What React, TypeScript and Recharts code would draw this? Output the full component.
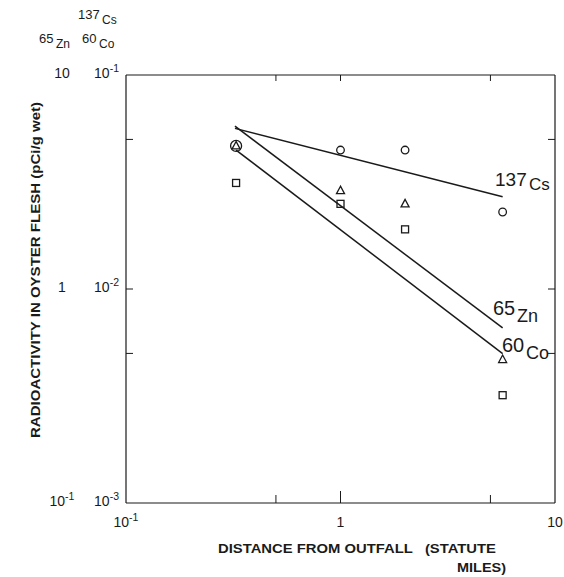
import React from 'react';
import { ScatterChart, Scatter, XAxis, YAxis } from 'recharts';

// distance from outfall (statute miles)
const distance = [0.326, 1, 2, 5.7];
// radioactivity (pCi/g wet), read against the 137Cs scale
const cs137 = [0.0466, 0.0446, 0.0446, 0.0229];
const zn65 = [0.0466, 0.0288, 0.025, 0.00468];
const co60 = [0.0313, 0.025, 0.019, 0.00319];

// fitted lines, end points
const csFitX = [0.322, 5.7];
const csFitY = [0.0563, 0.027];
const znFitX = [0.322, 5.7];
const znFitY = [0.0577, 0.00658];
const coFitX = [0.326, 5.7];
const coFitY = [0.0446, 0.00499];

const xTicks = [0.1, 0.5, 1, 5, 10];
const xMajor = [0.1, 1, 10];
const xMajorLabels = [['10', '-1'], ['1', ''], ['10', '']];

const yTicks = [0.001, 0.005, 0.01, 0.05, 0.1];
const yMajor = [0.1, 0.01, 0.001];
const yLabelsCs = [['10', '-1'], ['10', '-2'], ['10', '-3']];
const yLabelsZnCo = [['10', ''], ['1', ''], ['10', '-1']];

const ink = '#1a1a1a';
const font = '"Liberation Sans", Arial, sans-serif';

const toPoints = (xs: number[], ys: number[]) => xs.map((x, i) => ({ x, y: ys[i] }));

const Sup = ({ base, exp, size }: { base: string; exp: string; size: number }) => (
  <>
    <tspan>{base}</tspan>
    {exp && (
      <tspan dy={-size * 0.45} fontSize={size * 0.75}>
        {exp}
      </tspan>
    )}
  </>
);

const BottomTick = (props: any) => {
  const { x, y, payload } = props;
  const i = xMajor.indexOf(payload.value);
  const inner = payload.value > 0.1 && payload.value < 10;
  return (
    <g>
      {inner && <line x1={x} x2={x} y1={y} y2={y - (i >= 0 ? 12 : 8)} stroke={ink} strokeWidth={1} />}
      {i >= 0 && (
        <text x={x} y={y + 24} textAnchor="middle" fontSize={14} fontFamily={font} fill={ink}>
          <Sup base={xMajorLabels[i][0]} exp={xMajorLabels[i][1]} size={14} />
        </text>
      )}
    </g>
  );
};

const TopTick = (props: any) => {
  const { x, y, payload } = props;
  const inner = payload.value > 0.1 && payload.value < 10;
  return <g>{inner && <line x1={x} x2={x} y1={y} y2={y + 6} stroke={ink} strokeWidth={1} />}</g>;
};

const LeftTick = (props: any) => {
  const { x, y, payload } = props;
  const i = yMajor.indexOf(payload.value);
  const inner = payload.value > 0.001 && payload.value < 0.1;
  return (
    <g>
      {inner && <line x1={x} x2={x + 7} y1={y} y2={y} stroke={ink} strokeWidth={1} />}
      {i >= 0 && (
        <>
          <text x={62} y={y + 3} textAnchor="middle" fontSize={14} fontFamily={font} fill={ink}>
            <Sup base={yLabelsZnCo[i][0]} exp={yLabelsZnCo[i][1]} size={14} />
          </text>
          <text x={119} y={y + 3} textAnchor="end" fontSize={14} fontFamily={font} fill={ink}>
            <Sup base={yLabelsCs[i][0]} exp={yLabelsCs[i][1]} size={14} />
          </text>
        </>
      )}
    </g>
  );
};

const RightTick = (props: any) => {
  const { x, y, payload } = props;
  const inner = payload.value > 0.001 && payload.value < 0.1;
  return <g>{inner && <line x1={x} x2={x - 7} y1={y} y2={y} stroke={ink} strokeWidth={1} />}</g>;
};

const CircleMark = (p: any) => {
  const r = p.payload && p.payload.x < 0.5 ? 5.5 : 3.8;
  return <circle cx={p.cx} cy={p.cy} r={r} fill="none" stroke={ink} strokeWidth={1.3} />;
};
const TriangleMark = (p: any) => (
  <polygon
    points={`${p.cx},${p.cy - 4.5} ${p.cx - 4},${p.cy + 3} ${p.cx + 4},${p.cy + 3}`}
    fill="none"
    stroke={ink}
    strokeWidth={1.3}
  />
);
const SquareMark = (p: any) => (
  <rect x={p.cx - 3.5} y={p.cy - 3.5} width={7} height={7} fill="none" stroke={ink} strokeWidth={1.3} />
);
const NoMark = () => <g />;

// mass number followed by a slightly lowered element symbol
const Isotope = ({ x, y, mass, sym, size, symSize, gap, drop }: any) => (
  <g fontFamily={font} fill={ink}>
    <text x={x} y={y} fontSize={size}>
      {mass}
    </text>
    <text x={x + gap} y={y + drop} fontSize={symSize}>
      {sym}
    </text>
  </g>
);

export default function App() {
  const axisLine = { stroke: ink, strokeWidth: 1.2 };
  return (
    <div style={{ position: 'absolute', left: 0, top: 0, width: 564, height: 577, background: '#fff' }}>
      <ScatterChart width={564} height={577} margin={{ top: 0, right: 0, bottom: 0, left: 0 }}>
        <XAxis
          xAxisId="b"
          type="number"
          dataKey="x"
          scale="log"
          domain={[0.1, 10]}
          ticks={xTicks}
          interval={0}
          allowDataOverflow
          height={74}
          tickSize={0}
          tickMargin={0}
          tickLine={false}
          axisLine={axisLine}
          tick={<BottomTick />}
        />
        <XAxis
          xAxisId="t"
          orientation="top"
          type="number"
          dataKey="x"
          scale="log"
          domain={[0.1, 10]}
          ticks={xTicks}
          interval={0}
          allowDataOverflow
          height={75}
          tickSize={0}
          tickMargin={0}
          tickLine={false}
          axisLine={axisLine}
          tick={<TopTick />}
        />
        <YAxis
          yAxisId="l"
          type="number"
          dataKey="y"
          scale="log"
          domain={[0.001, 0.1]}
          ticks={yTicks}
          interval={0}
          allowDataOverflow
          width={126}
          tickSize={0}
          tickMargin={0}
          tickLine={false}
          axisLine={axisLine}
          tick={<LeftTick />}
        />
        <YAxis
          yAxisId="r"
          orientation="right"
          type="number"
          dataKey="y"
          scale="log"
          domain={[0.001, 0.1]}
          ticks={yTicks}
          interval={0}
          allowDataOverflow
          width={9}
          tickSize={0}
          tickMargin={0}
          tickLine={false}
          axisLine={axisLine}
          tick={<RightTick />}
        />
        <Scatter xAxisId="b" yAxisId="l" data={toPoints(csFitX, csFitY)} line={{ stroke: ink, strokeWidth: 1.5 }} shape={NoMark} isAnimationActive={false} />
        <Scatter xAxisId="b" yAxisId="l" data={toPoints(znFitX, znFitY)} line={{ stroke: ink, strokeWidth: 1.5 }} shape={NoMark} isAnimationActive={false} />
        <Scatter xAxisId="b" yAxisId="l" data={toPoints(coFitX, coFitY)} line={{ stroke: ink, strokeWidth: 1.5 }} shape={NoMark} isAnimationActive={false} />
        <Scatter xAxisId="b" yAxisId="l" data={toPoints(distance, cs137)} shape={CircleMark} isAnimationActive={false} />
        <Scatter xAxisId="b" yAxisId="l" data={toPoints(distance, zn65)} shape={TriangleMark} isAnimationActive={false} />
        <Scatter xAxisId="b" yAxisId="l" data={toPoints(distance, co60)} shape={SquareMark} isAnimationActive={false} />
      </ScatterChart>
      <svg width={564} height={577} style={{ position: 'absolute', left: 0, top: 0, pointerEvents: 'none' }}>
        <Isotope x={78} y={19} mass="137" sym="Cs" size={13} symSize={12} gap={24} drop={5} />
        <Isotope x={39} y={43} mass="65" sym="Zn" size={13} symSize={12} gap={17} drop={5} />
        <Isotope x={82} y={43} mass="60" sym="Co" size={13} symSize={12} gap={17} drop={5} />

        <Isotope x={495} y={186} mass="137" sym="Cs" size={19} symSize={17} gap={34} drop={4} />
        <Isotope x={493} y={315} mass="65" sym="Zn" size={20} symSize={18} gap={24} drop={7} />
        <Isotope x={502} y={352} mass="60" sym="Co" size={20} symSize={18} gap={24} drop={7} />

        <text
          x={0}
          y={0}
          transform="translate(40, 270) rotate(-90)"
          textAnchor="middle"
          fontSize={12}
          fontWeight="bold"
          fontFamily={font}
          fill={ink}
          textLength={336}
          lengthAdjust="spacingAndGlyphs"
        >
          RADIOACTIVITY IN OYSTER FLESH (pCi/g wet)
        </text>
        <text
          x={218}
          y={553}
          fontSize={13}
          fontWeight="bold"
          fontFamily={font}
          fill={ink}
          textLength={278}
          lengthAdjust="spacingAndGlyphs"
          style={{ whiteSpace: 'pre' }}
        >
          {'DISTANCE FROM OUTFALL   (STATUTE'}
        </text>
        <text x={457} y={572} fontSize={13} fontWeight="bold" fontFamily={font} fill={ink} textLength={49} lengthAdjust="spacingAndGlyphs">
          MILES)
        </text>
      </svg>
    </div>
  );
}
